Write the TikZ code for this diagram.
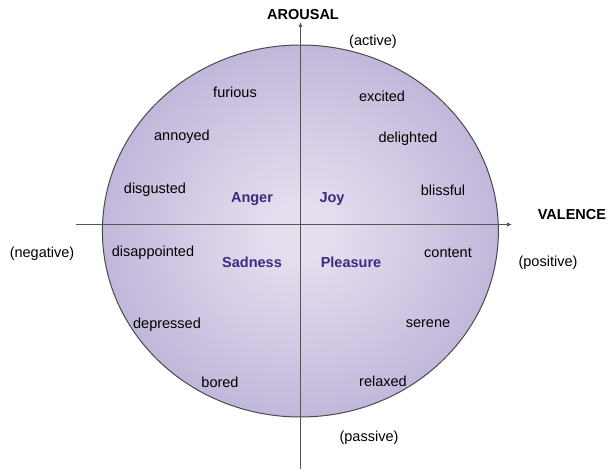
\documentclass[tikz,border=0pt]{standalone}
\usepackage{fontspec}
\setmainfont{Liberation Sans}
\usetikzlibrary{arrows.meta}
\definecolor{innerc}{HTML}{E4DEEF}
\definecolor{outerc}{HTML}{9F90C6}
\definecolor{rimc}{HTML}{4A4A4A}
\definecolor{axisc}{HTML}{555555}
\definecolor{emoc}{HTML}{3B2A7E}
\pgfdeclareradialshading{myrad}{\pgfpoint{0bp}{0bp}}{color(0bp)=(innerc); color(4bp)=(innerc); color(46bp)=(outerc); color(50bp)=(outerc)}
\tikzset{
  word/.style={font=\fontsize{14.5}{16}\selectfont, text=black, inner sep=0pt},
  axlabel/.style={font=\fontsize{14.5}{16}\selectfont\bfseries, text=black, inner sep=0pt},
  emo/.style={font=\fontsize{14.5}{16}\selectfont\bfseries, text=emoc, inner sep=0pt},
  axisline/.style={draw=axisc, line width=1pt, -{Latex[length=5pt,width=4.5pt]}},
}
\begin{document}
\begin{tikzpicture}[x=1pt,y=-1pt]
\useasboundingbox (0,0) rectangle (608,470);
\path[shading=myrad, draw=rimc, line width=1pt] (300.4,231) ellipse [x radius=198pt, y radius=186pt];
\coordinate (vtop) at (300.5,22);
\coordinate (vbot) at (300.5,469);
\coordinate (hl) at (76,224.5);
\coordinate (hr) at (512,224.5);
\draw[axisline] (vbot) -- (vtop);
\draw[axisline] (hl) -- (hr);
\node[axlabel] (arousal) at (303,15) {AROUSAL};
\node[word] (active) at (373,41.5) {(active)};
\node[axlabel] (valence) at (572,215) {VALENCE};
\node[word] (positive) at (548,262.5) {(positive)};
\node[word] (negative) at (42,254) {(negative)};
\node[word] (passive) at (369,438) {(passive)};
\node[word] (furious) at (235,92) {furious};
\node[word] (annoyed) at (182,136.5) {annoyed};
\node[word] (disgusted) at (155,190) {disgusted};
\node[word] (disappointed) at (153,253) {disappointed};
\node[word] (depressed) at (167,325) {depressed};
\node[word] (bored) at (220,382) {bored};
\node[word] (excited) at (382,96) {excited};
\node[word] (delighted) at (408,138.5) {delighted};
\node[word] (blissful) at (443,190) {blissful};
\node[word] (content) at (448,253) {content};
\node[word] (serene) at (428,324) {serene};
\node[word] (relaxed) at (383,381) {relaxed};
\node[emo] (anger) at (252,199) {Anger};
\node[emo] (joy) at (332,199) {Joy};
\node[emo] (sadness) at (252,262) {Sadness};
\node[emo] (pleasure) at (351,262) {Pleasure};
\end{tikzpicture}
\end{document}
